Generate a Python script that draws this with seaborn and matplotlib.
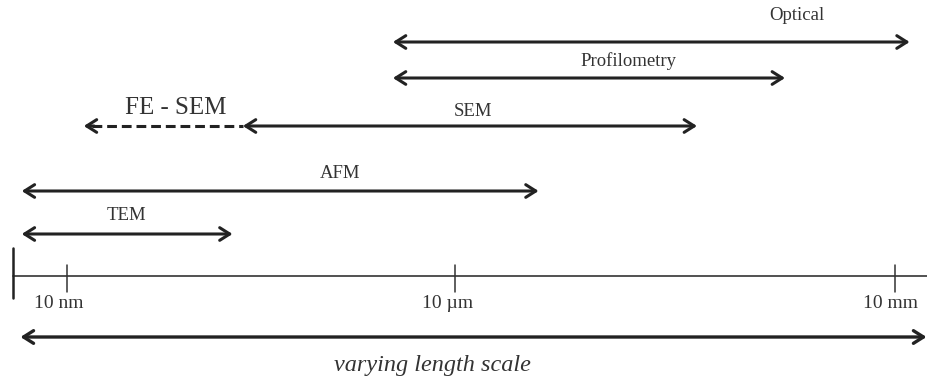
import numpy as np
import pandas as pd
import matplotlib
matplotlib.use("Agg")
import matplotlib.pyplot as plt
import seaborn as sns

# ---- data (log10 of length in metres) ----
techniques = ["Optical", "Profilometry", "SEM", "AFM", "TEM"]
range_min = [-5.48, -5.48, -6.64, -8.35, -8.35]
range_max = [-1.90, -2.75, -3.35, -4.43, -6.72]
label_x = [-2.67, -3.82, -4.88, -5.89, -7.54]

fesem_min = -7.87
fesem_max = -6.64
fesem_label_x = -7.16

tick_values = [-8, -5, -2]
tick_labels = ["10 nm", "10 \u00b5m", "10 mm"]
tick_label_x = [-8.06, -5.06, -2.03]

scale_min = -8.36
scale_max = -1.785

# ---- layout (rows in pixel-like units, top = 0) ----
rows = [42, 78, 126, 191, 234]
label_rows = [16, 61, 111, 173, 216]
fesem_label_row = 108
axis_row = 276
ticklabel_row = 304
scale_row = 337
scale_label_row = 366

# piecewise log scale so the ticks sit where they do in the figure
K1 = 388 / 3.0
K2 = 440 / 3.0


def fwd(x):
    x = np.asarray(x, dtype=float)
    return np.where(x <= -5, (x + 8) * K1, 3 * K1 + (x + 5) * K2)


def inv(s):
    s = np.asarray(s, dtype=float)
    return np.where(s <= 3 * K1, s / K1 - 8, (s - 3 * K1) / K2 - 5)


sns.set_theme(style="white")
plt.rcParams["font.family"] = ["Liberation Serif", "DejaVu Serif"]

fig = plt.figure(figsize=(9.27, 3.83), dpi=100)
ax = fig.add_axes([0, 0, 1, 1])
ax.set_xscale("function", functions=(fwd, inv))
ax.set_xlim(float(inv(-67)), float(inv(860)))
ax.set_ylim(383, 0)
ax.axis("off")

col = "#222222"
astyle = "<->,head_length=0.6,head_width=0.38"

for name, lo, hi, r, lx, lr in zip(techniques, range_min, range_max, rows, label_x, label_rows):
    ax.annotate("", xy=(hi, r), xytext=(lo, r), annotation_clip=False,
                arrowprops=dict(arrowstyle=astyle, color=col, lw=2.2,
                                shrinkA=0, shrinkB=0, mutation_scale=12))
    ax.text(lx, lr, name, ha="center", va="center", fontsize=13.5, color="#333333")

# FE-SEM dashed extension
ax.plot([fesem_min + 0.06, fesem_max], [rows[2], rows[2]], color=col, lw=2.2,
        ls=(0, (3.2, 1.6)))
ax.annotate("", xy=(fesem_min, rows[2]), xytext=(fesem_min + 0.08, rows[2]),
            annotation_clip=False,
            arrowprops=dict(arrowstyle="->,head_length=0.6,head_width=0.38", color=col,
                            lw=2.2, shrinkA=0, shrinkB=0, mutation_scale=12))
ax.text(fesem_label_x, fesem_label_row, "FE - SEM", ha="center", va="center",
        fontsize=18, color="#333333")

# base axis
base = pd.DataFrame({"x": [float(inv(-54)), float(inv(860))], "y": [axis_row, axis_row]})
sns.lineplot(data=base, x="x", y="y", ax=ax, color="#333333", lw=1.2)
ax.plot([float(inv(-54))] * 2, [248, 298], color="#222222", lw=1.8)
for tv, tl, tx in zip(tick_values, tick_labels, tick_label_x):
    ax.plot([tv, tv], [265, 292], color="#333333", lw=1.1)
    ax.text(tx, ticklabel_row, tl, ha="center", va="center", fontsize=14, color="#333333")

# varying length scale arrow
ax.annotate("", xy=(scale_max, scale_row), xytext=(scale_min, scale_row),
            annotation_clip=False,
            arrowprops=dict(arrowstyle=astyle, color=col, lw=2.4,
                            shrinkA=0, shrinkB=0, mutation_scale=12))
ax.text(float(inv(365)), scale_label_row, "varying length scale", ha="center",
        va="center", fontsize=17.5, style="italic", color="#333333")

fig.savefig("out.png", dpi=100)
